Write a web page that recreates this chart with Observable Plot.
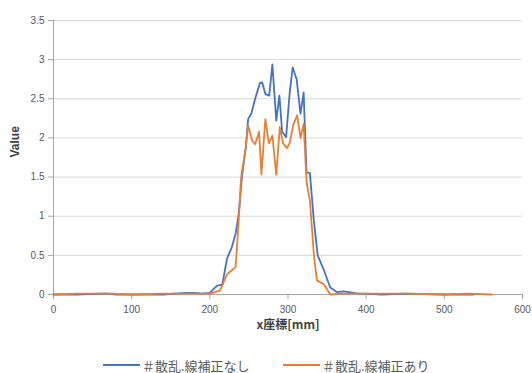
<!DOCTYPE html>
<html><head><meta charset="utf-8">
<script src="https://cdn.jsdelivr.net/npm/d3@7"></script>
<script src="https://cdn.jsdelivr.net/npm/@observablehq/plot@0.6"></script>
<style>
body{margin:0;background:#fff;font-family:"Liberation Sans","Noto Sans CJK JP",sans-serif;}
#legend{height:28px;font-family:"Noto Sans CJK JP",sans-serif;font-size:13px;color:#595959;position:relative;}
.item{position:absolute;top:12px;display:flex;align-items:center;height:16px;}
.sw{width:37px;height:2px;margin-right:2px;}
</style></head>
<body>
<div id="chart"></div>
<div id="legend"></div>
<script>
const seriesNames = ["＃散乱.線補正なし", "＃散乱.線補正あり"];
const colors = ["#4472C4", "#ED7D31"];
const blueX = [0,30,60,70,80,100,140,170,180,190,200,209,216,222,228,233,237,241,246,249,253,258,264,267,271,276,280,285,289,292.5,297.6,302,306,311,316,320,323.7,328,333,338,346,354,363,370.6,378,390,400,420,450,500,537];
const blueY = [0,0,0.01,0.01,0,0,0,0.02,0.02,0.01,0.02,0.11,0.13,0.46,0.6,0.78,1.03,1.5,1.88,2.24,2.31,2.5,2.7,2.71,2.56,2.54,2.94,2.22,2.54,2.08,2.01,2.56,2.9,2.75,2.31,2.58,1.56,1.55,0.95,0.5,0.31,0.09,0.03,0.04,0.03,0.01,0.01,0,0.01,0,0];
const orangeX = [0,30,60,75,100,140,180,200,213,222,226,233,237,240,246,249,254,258,263,266,271,275.5,280,285,289.5,293.7,298.8,302.3,306.5,311.7,316,320,323.7,328,333,337,346,354,370,400,450,500,530,561];
const orangeY = [0,0.01,0.01,0.01,0,0.01,0.01,0.01,0.05,0.26,0.29,0.35,0.95,1.5,1.88,2.16,1.97,1.92,2.08,1.53,2.24,1.93,2.03,1.53,2.14,1.93,1.87,1.94,2.16,2.29,2.0,2.18,1.44,1.2,0.52,0.18,0.13,0,0.01,0.01,0.01,0,0.01,0];
const xTicks = [0,100,200,300,400,500,600];
const yTicks = [0,0.5,1,1.5,2,2.5,3,3.5];

const data = [
  ...blueX.map((x,i)=>({x, y: blueY[i], s: seriesNames[0]})),
  ...orangeX.map((x,i)=>({x, y: orangeY[i], s: seriesNames[1]}))
];

const chart = Plot.plot({
  width: 532, height: 345,
  marginLeft: 53, marginRight: 10, marginTop: 20, marginBottom: 51,
  style: {fontFamily: "'Liberation Sans','Noto Sans CJK JP',sans-serif", fontSize: "10px", color: "#595959", background: "#fff"},
  x: {domain: [0,600]},
  y: {domain: [0,3.5]},
  color: {domain: seriesNames, range: colors},
  marks: [
    Plot.gridY(yTicks, {stroke: "#d9d9d9", strokeOpacity: 1}),
    Plot.ruleX([0], {stroke: "#a6a6a6"}),
    Plot.ruleY([0], {stroke: "#a6a6a6"}),
    Plot.axisY(yTicks, {tickSize: 5, stroke: "#a6a6a6", tickPadding: 4, fill: "#595959", label: null, tickFormat: d=>String(d)}),
    Plot.axisX(xTicks, {tickSize: 5, stroke: "#a6a6a6", tickPadding: 6, fill: "#595959", label: null}),
    Plot.line(data, {x: "x", y: "y", stroke: "s", z: "s", strokeWidth: 1.8, curve: "linear"}),
    Plot.text(["x座標[mm]"], {frameAnchor: "bottom", dy: 34, fontWeight: "bold", fontSize: 12, fill: "#404040", fontFamily: "'Noto Sans CJK JP',sans-serif"}),
    Plot.text(["Value"], {frameAnchor: "left", dx: -38, rotate: -90, fontWeight: "bold", fontSize: 12, fill: "#404040"})
  ]
});
document.getElementById("chart").appendChild(chart);

const lg = document.getElementById("legend");
const lefts = [103, 283];
seriesNames.forEach((n,i)=>{
  const it = document.createElement("div");
  it.className = "item";
  it.style.left = lefts[i] + "px";
  it.innerHTML = `<span class="sw" style="background:${colors[i]}"></span><span>${n}</span>`;
  lg.appendChild(it);
});
</script>
</body></html>
